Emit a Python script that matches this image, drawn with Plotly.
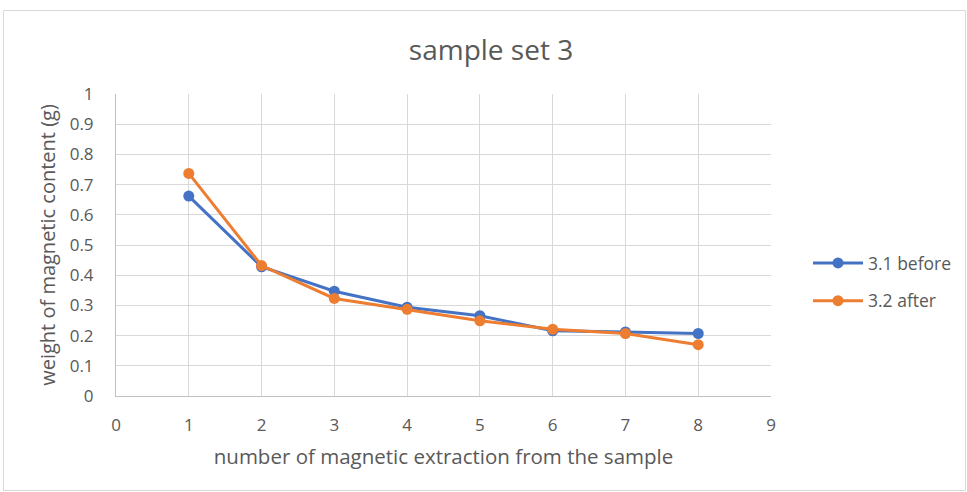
import plotly.graph_objects as go

# extraction number and weight of magnetic content (g)
extraction = [1, 2, 3, 4, 5, 6, 7, 8]
before_3_1 = [0.662, 0.428, 0.347, 0.294, 0.266, 0.216, 0.212, 0.207]
after_3_2 = [0.737, 0.432, 0.323, 0.287, 0.249, 0.221, 0.207, 0.170]

x_ticks = list(range(0, 10))
y_ticks = [round(i * 0.1, 1) for i in range(11)]

W, H = 967, 492
L, R, T, B = 116, 771, 94, 396   # plot area in pixels

BLUE = "#4472C4"
ORANGE = "#ED7D31"
TEXT = "#595959"
GRID = "#D9D9D9"
FONT = "Open Sans"

fig = go.Figure()
fig.add_trace(go.Scatter(
    x=extraction, y=before_3_1, name="3.1 before", mode="lines+markers",
    line=dict(color=BLUE, width=3), marker=dict(color=BLUE, size=11),
    legendgroup="a"))
fig.add_trace(go.Scatter(
    x=extraction, y=after_3_2, name="3.2 after", mode="lines+markers",
    line=dict(color=ORANGE, width=3), marker=dict(color=ORANGE, size=11),
    legendgroup="b"))

def px_x(p):
    return (p - L) / (R - L)

def px_y(p):
    return (B - p) / (B - T)

# outer chart border
fig.add_shape(type="rect", xref="paper", yref="paper",
              x0=px_x(3.5), x1=px_x(965.5), y0=px_y(490.5), y1=px_y(10.5),
              line=dict(color="#D9D9D9", width=1), fillcolor="rgba(0,0,0,0)",
              layer="below")

fig.update_layout(
    width=W, height=H,
    margin=dict(l=L, r=W - R, t=T, b=H - B, autoexpand=False),
    paper_bgcolor="white", plot_bgcolor="white",
    font=dict(family=FONT, color=TEXT, size=17),
    title=dict(text="sample set 3", x=491 / W,
               xanchor="center", y=1 - 50 / H, yanchor="middle",
               font=dict(size=28, color=TEXT, family=FONT)),
    xaxis=dict(range=[0, 9], tickvals=x_ticks, ticktext=[str(v) for v in x_ticks],
               showgrid=True, gridcolor=GRID, gridwidth=1,
               showline=True, linecolor="#BFBFBF", linewidth=1,
               zeroline=False, ticks="", ticklabelstandoff=14,
               tickfont=dict(size=17, color=TEXT),
               title=dict(text="number of magnetic extraction from the sample",
                          font=dict(size=20.5, color=TEXT), standoff=14)),
    yaxis=dict(range=[0, 1], tickvals=y_ticks, ticktext=[("%g" % v) for v in y_ticks],
               showgrid=True, gridcolor=GRID, gridwidth=1,
               showline=True, linecolor="#BFBFBF", linewidth=1,
               zeroline=False, ticks="", ticklabelstandoff=18,
               tickfont=dict(size=17, color=TEXT),
               title=dict(text="weight of magnetic content (g)",
                          font=dict(size=20, color=TEXT), standoff=8)),
    legend=dict(x=px_x(808), y=px_y(282), xanchor="left", yanchor="middle",
                font=dict(size=17.5, color=TEXT), bgcolor="rgba(0,0,0,0)",
                traceorder="grouped", tracegroupgap=12, itemwidth=50),
    showlegend=True,
)

fig.write_html("out.html")
